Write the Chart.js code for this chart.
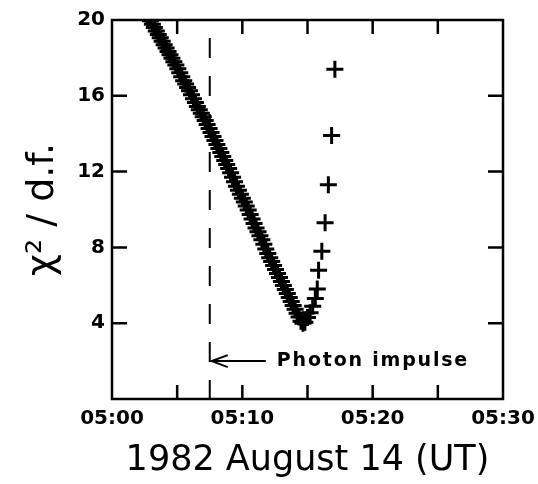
<!DOCTYPE html>
<html>
<head>
<meta charset="utf-8">
<script src="https://cdn.jsdelivr.net/npm/chart.js@4.4.0/dist/chart.umd.min.js"></script>
<style>
html, body { margin: 0; padding: 0; background: #fff; }
</style>
</head>
<body>
<canvas id="mycanvas" width="538" height="484"></canvas>
<script>
// minutes after 05:00 UT and chi^2 / d.f.
var fitMinutes = [
    2.50, 2.65, 2.80, 2.95, 3.10, 3.25, 3.40, 3.55, 3.70, 3.85,
    4.00, 4.15, 4.30, 4.45, 4.60, 4.75, 4.90, 5.05, 5.20, 5.35,
    5.50, 5.65, 5.80, 5.95, 6.10, 6.25, 6.40, 6.55, 6.70, 6.85,
    7.00, 7.15, 7.30, 7.45, 7.60, 7.75, 7.90, 8.05, 8.20, 8.35,
    8.50, 8.65, 8.80, 8.95, 9.10, 9.25, 9.40, 9.55, 9.70, 9.85,
    10.00, 10.15, 10.30, 10.45, 10.60, 10.75, 10.90, 11.05, 11.20, 11.35,
    11.50, 11.65, 11.80, 11.95, 12.10, 12.25, 12.40, 12.55, 12.70, 12.85,
    13.00, 13.15, 13.30, 13.45, 13.60, 13.75, 13.90, 14.05, 14.20, 14.35,
    14.50, 14.65, 14.80, 15.00, 15.20, 15.40, 15.60, 15.75, 15.85, 16.10,
    16.35, 16.60, 16.85, 17.10
];
var fitChi = [
    20.50, 20.30, 20.10, 19.96, 19.78, 19.60, 19.42, 19.24, 19.06, 18.88,
    18.70, 18.52, 18.34, 18.16, 17.98, 17.80, 17.62, 17.43, 17.22, 17.01,
    16.80, 16.62, 16.44, 16.26, 16.06, 15.85, 15.64, 15.44, 15.26, 15.08,
    14.90, 14.69, 14.48, 14.27, 14.06, 13.85, 13.64, 13.43, 13.22, 13.01,
    12.80, 12.59, 12.38, 12.17, 11.94, 11.70, 11.46, 11.23, 11.02, 10.81,
    10.60, 10.39, 10.18, 9.97, 9.74, 9.50, 9.26, 9.03, 8.82, 8.61,
    8.40, 8.16, 7.92, 7.68, 7.46, 7.25, 7.04, 6.83, 6.62, 6.41,
    6.20, 5.99, 5.78, 5.57, 5.36, 5.15, 4.94, 4.73, 4.53, 4.33,
    4.10, 4.00, 4.05, 4.30, 4.55, 4.90, 5.30, 5.80, 6.80, 7.80,
    9.30, 11.30, 13.90, 17.40
];

var xTickMinutes = [5, 10, 15, 20, 25];
var yTickValues = [4, 8, 12, 16];

var impulseMinute = 7.5;
var dashTop = 19.05;
var arrowLevel = 2.0;
var arrowTail = 11.8;
var labelMinute = 12.65;
var impulseLabel = "Photon impulse";

function pad2(n) {
    return n < 10 ? "0" + n : "" + n;
}

var fitPoints = [];
for (var i = 0; i < fitMinutes.length; i++) {
    fitPoints.push({ x: fitMinutes[i], y: fitChi[i] });
}

// frame with inward ticks, plus the impulse arrow and label
var frameTicks = {
    id: "frameTicks",
    afterDatasetsDraw: function (chart) {
        var ctx = chart.ctx;
        var a = chart.chartArea;
        var xs = chart.scales.x;
        var ys = chart.scales.y;
        ctx.save();
        ctx.strokeStyle = "#000";
        ctx.fillStyle = "#000";
        ctx.lineWidth = 2.5;
        ctx.strokeRect(a.left, a.top, a.right - a.left, a.bottom - a.top);
        ctx.beginPath();
        xTickMinutes.forEach(function (m) {
            var px = xs.getPixelForValue(m);
            ctx.moveTo(px, a.bottom);
            ctx.lineTo(px, a.bottom - 14);
            ctx.moveTo(px, a.top);
            ctx.lineTo(px, a.top + 14);
        });
        yTickValues.forEach(function (v) {
            var py = ys.getPixelForValue(v);
            ctx.moveTo(a.left, py);
            ctx.lineTo(a.left + 15, py);
            ctx.moveTo(a.right, py);
            ctx.lineTo(a.right - 15, py);
        });
        ctx.stroke();

        var ay = ys.getPixelForValue(arrowLevel);
        var x0 = xs.getPixelForValue(impulseMinute) + 2;
        var x1 = xs.getPixelForValue(arrowTail);
        ctx.lineWidth = 2;
        ctx.beginPath();
        ctx.moveTo(x1, ay);
        ctx.lineTo(x0, ay);
        ctx.moveTo(x0 + 16, ay - 6);
        ctx.lineTo(x0, ay);
        ctx.lineTo(x0 + 16, ay + 6);
        ctx.stroke();

        ctx.font = 'bold 19px "DejaVu Sans"';
        ctx.letterSpacing = "1.8px";
        ctx.textAlign = "left";
        ctx.textBaseline = "middle";
        ctx.fillText(impulseLabel, xs.getPixelForValue(labelMinute), ay);
        ctx.restore();
    }
};

var ctx = document.getElementById("mycanvas");

var chart = new Chart(ctx, {
    type: "scatter",
    data: {
        datasets: [
            {
                label: "chi2",
                data: fitPoints,
                showLine: false,
                pointStyle: "cross",
                pointRadius: 8.5,
                pointBorderWidth: 3,
                borderColor: "#000",
                backgroundColor: "#000"
            },
            {
                label: "impulse",
                data: [{ x: impulseMinute, y: dashTop }, { x: impulseMinute, y: 0 }],
                showLine: true,
                borderColor: "#000",
                borderWidth: 2,
                borderDash: [20, 18],
                pointRadius: 0
            }
        ]
    },
    options: {
        responsive: false,
        animation: false,
        devicePixelRatio: 1,
        layout: { padding: { left: 0, top: 20, right: 35, bottom: 0 } },
        plugins: {
            legend: { display: false },
            tooltip: { enabled: false }
        },
        scales: {
            x: {
                type: "linear",
                min: 0,
                max: 30,
                grid: { display: false, drawTicks: false },
                border: { display: false },
                ticks: {
                    stepSize: 5,
                    autoSkip: false,
                    maxRotation: 0,
                    padding: 8,
                    color: "#000",
                    font: { family: "DejaVu Sans", weight: "bold", size: 20 },
                    callback: function (v) {
                        return v % 10 === 0 ? "05:" + pad2(v) : "";
                    }
                },
                title: {
                    display: true,
                    text: "1982 August 14 (UT)",
                    color: "#000",
                    font: { family: "DejaVu Sans", size: 35 },
                    padding: { top: 0, bottom: 2 }
                },
                afterFit: function (scale) {
                    scale.height = 85;
                    scale.paddingLeft = 0;
                    scale.paddingRight = 0;
                }
            },
            y: {
                min: 0,
                max: 20,
                grid: { display: false, drawTicks: false },
                border: { display: false },
                ticks: {
                    stepSize: 4,
                    padding: 7,
                    color: "#000",
                    font: { family: "DejaVu Sans", weight: "bold", size: 20 },
                    callback: function (v) {
                        return v === 0 ? "" : v;
                    }
                },
                title: {
                    display: true,
                    text: "χ² / d.f.",
                    color: "#000",
                    font: { family: "DejaVu Sans", size: 38 },
                    padding: { top: 20, bottom: 0 }
                },
                afterFit: function (scale) {
                    scale.width = 112;
                }
            }
        }
    },
    plugins: [frameTicks]
});
</script>
</body>
</html>
